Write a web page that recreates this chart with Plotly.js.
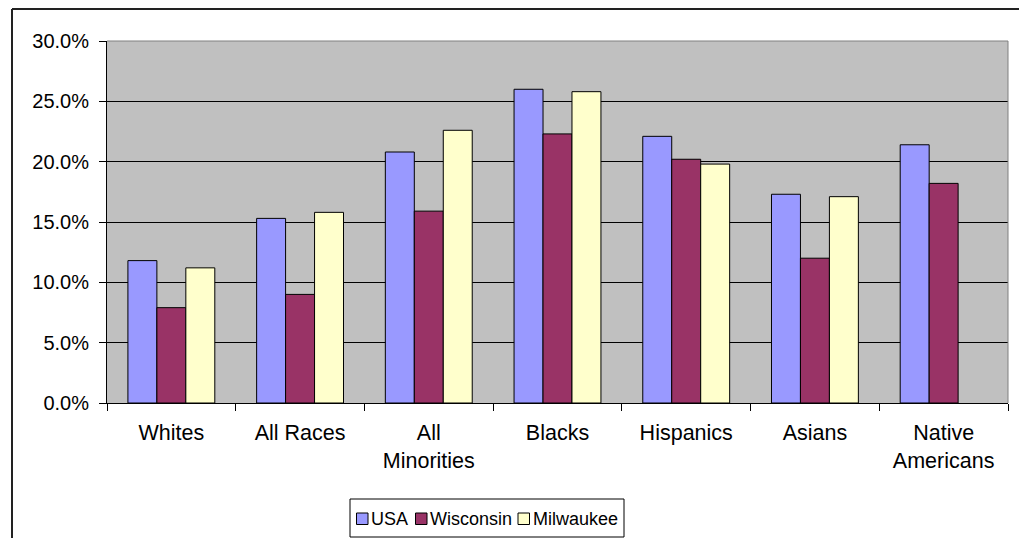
<!DOCTYPE html>
<html>
<head>
<meta charset="utf-8">
<script src="https://cdn.plot.ly/plotly-3.0.1.min.js"></script>
<style>html,body{margin:0;padding:0;background:#fff;}#chart{width:1019px;height:538px;}</style>
</head>
<body>
<div id="chart"></div>
<script>
const categories = ["Whites", "All Races", "All<br>Minorities", "Blacks", "Hispanics", "Asians", "Native<br>Americans"];
const seriesNames = ["USA", "Wisconsin", "Milwaukee"];
const usa = [11.8, 15.3, 20.8, 26.0, 22.1, 17.3, 21.4];
const wisconsin = [7.9, 9.0, 15.9, 22.3, 20.2, 12.0, 18.2];
const milwaukee = [11.2, 15.8, 22.6, 25.8, 19.8, 17.1, null];
const colors = ["#9999FF", "#993366", "#FFFFCC"];

const W = 1019, H = 538;
const M = {l: 107, r: 11, t: 41, b: 135};
const PW = W - M.l - M.r, PH = H - M.t - M.b;
const px = v => (v - M.l) / PW;          // pixel x -> paper
const py = v => (H - M.b - v) / PH;      // pixel y -> paper

const values = [usa, wisconsin, milwaukee];
const traces = values.map((v, i) => ({
  type: "bar",
  name: seriesNames[i],
  x: categories,
  y: v,
  marker: {color: colors[i], line: {color: "#000", width: 1}},
  hoverinfo: "y+name"
}));

const font = "Liberation Sans, Arial, sans-serif";

// custom legend (box, swatches, labels)
const legBox = {x0: 350, x1: 624, y0: 499, y1: 537};
const swatchX = [356.5, 415.5, 518];
const textX = [370, 429, 532];
const swatchY0 = 513, swatchSize = 11.5;
const shapes = [
  {type: "line", xref: "paper", yref: "paper", x0: 0, x1: 1, y0: 1, y1: 1, line: {color: "#808080", width: 1}},
  {type: "line", xref: "paper", yref: "paper", x0: 1, x1: 1, y0: 0, y1: 1, line: {color: "#808080", width: 1}},
  {type: "line", xref: "paper", yref: "paper", x0: px(12), x1: px(1025), y0: py(9), y1: py(9), line: {color: "#222", width: 2}},
  {type: "line", xref: "paper", yref: "paper", x0: px(12), x1: px(12), y0: py(9), y1: py(545), line: {color: "#222", width: 2}},
  {type: "rect", xref: "paper", yref: "paper", x0: px(legBox.x0), x1: px(legBox.x1), y0: py(legBox.y0), y1: py(legBox.y1),
   line: {color: "#000", width: 1}, fillcolor: "#fff", layer: "above"}
];
const annotations = [];
seriesNames.forEach((n, i) => {
  shapes.push({type: "rect", xref: "paper", yref: "paper",
    x0: px(swatchX[i]), x1: px(swatchX[i] + swatchSize),
    y0: py(swatchY0), y1: py(swatchY0 + swatchSize),
    line: {color: "#000", width: 1}, fillcolor: colors[i], layer: "above"});
  annotations.push({xref: "paper", yref: "paper", x: px(textX[i]), y: py(518.5),
    xanchor: "left", yanchor: "middle", text: n, showarrow: false,
    font: {family: font, size: 18, color: "#000"}, borderpad: 0});
});

const layout = {
  width: W, height: H,
  margin: {l: M.l, r: M.r, t: M.t, b: M.b, autoexpand: false},
  paper_bgcolor: "#fff",
  plot_bgcolor: "#C0C0C0",
  barmode: "group",
  bargap: 0.325,
  bargroupgap: 0,
  showlegend: false,
  font: {family: font, color: "#000", size: 20},
  xaxis: {
    type: "category",
    tickson: "boundaries",
    ticks: "outside", ticklen: 7, tickcolor: "#000", tickwidth: 1,
    showline: true, linecolor: "#000", linewidth: 1,
    showgrid: false,
    ticklabelstandoff: 10,
    tickfont: {family: font, size: 21.5, color: "#000"},
    automargin: false
  },
  yaxis: {
    range: [0, 30], dtick: 5, tick0: 0,
    tickformat: ".1f", ticksuffix: "%",
    ticks: "outside", ticklen: 7, tickcolor: "#000", tickwidth: 1,
    showline: true, linecolor: "#000", linewidth: 1,
    showgrid: true, gridcolor: "#000", gridwidth: 1,
    zeroline: false,
    ticklabelstandoff: 6,
    tickfont: {family: font, size: 20, color: "#000"},
    automargin: false
  },
  shapes: shapes,
  annotations: annotations
};

Plotly.newPlot("chart", traces, layout, {displayModeBar: false, staticPlot: true});
</script>
</body>
</html>
